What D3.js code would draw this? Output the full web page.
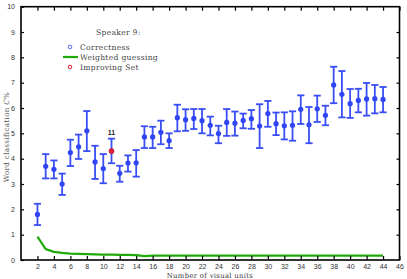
<!DOCTYPE html>
<html>
<head>
<meta charset="utf-8">
<script src="https://cdn.jsdelivr.net/npm/d3@7"></script>
<style>
  body { margin: 0; background: #fff; }
  svg { display: block; }
</style>
</head>
<body>
<svg width="407" height="279"></svg>
<script>
// number of visual units
var units = [2,3,4,5,6,7,8,9,10,11,12,13,14,15,16,17,18,19,20,21,22,23,24,25,26,27,28,29,30,31,32,33,34,35,36,37,38,39,40,41,42,43,44];
// correctness (C%) and its error bar ends
var correct = [1.80,3.70,3.58,3.00,4.24,4.47,5.10,3.87,3.61,4.30,3.42,3.83,3.84,4.86,4.86,5.04,4.71,5.62,5.54,5.59,5.50,5.32,4.99,5.43,5.40,5.51,5.58,5.29,5.78,5.38,5.30,5.32,5.95,5.34,5.97,5.71,6.91,6.54,6.17,6.30,6.36,6.37,6.34];
var upper = [2.22,4.18,3.93,3.41,4.75,4.95,5.88,4.51,4.18,4.79,3.72,4.13,4.34,5.28,5.26,5.50,5.00,6.13,5.95,5.96,5.96,5.66,5.30,5.96,5.86,5.78,5.92,6.15,6.28,5.82,5.83,5.87,6.50,6.04,6.49,6.09,7.63,7.46,6.75,6.76,6.99,6.91,6.83];
var lower = [1.38,3.22,3.22,2.57,3.71,3.99,4.30,3.20,3.03,3.82,3.09,3.49,3.29,4.42,4.42,4.57,4.42,5.08,5.10,5.17,5.00,4.92,4.61,4.90,4.91,5.20,5.18,4.42,5.26,4.93,4.76,4.71,5.37,4.61,5.45,5.32,6.19,5.63,5.61,5.83,5.70,5.79,5.83];
// weighted guessing
var guessing = [0.92,0.43,0.32,0.28,0.25,0.24,0.23,0.22,0.21,0.21,0.20,0.20,0.19,0.15,0.17,0.17,0.17,0.17,0.17,0.17,0.17,0.17,0.17,0.17,0.17,0.17,0.17,0.17,0.17,0.17,0.17,0.17,0.17,0.17,0.17,0.17,0.17,0.17,0.17,0.17,0.17,0.17,0.17];
var improving = 11;
var xTicks = d3.range(0, 47, 2);
var yTicks = d3.range(0, 11, 1);
var legendLabels = ["Correctness", "Weighted guessing", "Improving Set"];

var svg = d3.select("svg");
var x = d3.scaleLinear().domain([0, 46]).range([21, 399.5]);
var y = d3.scaleLinear().domain([0, 10]).range([260, 6.7]);

var blue = "#2f45f5", green = "#1faa0a", red = "#e0203a";
var tickFont = "'Liberation Sans', Arial, sans-serif";
var serif = "'DejaVu Serif', 'Liberation Serif', serif";

// error bars
var bars = svg.append("g");
units.forEach(function(u, i) {
  var cx = x(u);
  var g = bars.append("g").attr("stroke", blue).attr("stroke-width", 1.8).attr("opacity", 0.95);
  g.append("line").attr("x1", cx).attr("x2", cx).attr("y1", y(upper[i])).attr("y2", y(lower[i]));
  g.append("line").attr("x1", cx - 3.6).attr("x2", cx + 3.6).attr("y1", y(upper[i])).attr("y2", y(upper[i]));
  g.append("line").attr("x1", cx - 3.6).attr("x2", cx + 3.6).attr("y1", y(lower[i])).attr("y2", y(lower[i]));
  if (u === improving) {
    bars.append("circle").attr("cx", cx).attr("cy", y(correct[i])).attr("r", 2.5)
      .attr("fill", red).attr("stroke", "#c0102a").attr("stroke-width", 0.8);
    bars.append("text").attr("x", cx).attr("y", y(upper[i]) - 4)
      .attr("text-anchor", "middle").attr("font-family", tickFont).attr("font-size", 7)
      .attr("font-weight", "bold").attr("fill", "#222").text(u);
  } else {
    bars.append("circle").attr("cx", cx).attr("cy", y(correct[i])).attr("r", 2.6).attr("fill", blue);
  }
});

// weighted guessing line
svg.append("path")
  .datum(units.map(function(u, i) { return [u, guessing[i]]; }))
  .attr("fill", "none").attr("stroke", green).attr("stroke-width", 2.2)
  .attr("d", d3.line().x(function(d) { return x(d[0]); }).y(function(d) { return y(d[1]); }));

// axes (ticks inward, all four sides)
var ax = svg.append("g").attr("font-family", tickFont).attr("font-size", 7).attr("fill", "#333");
ax.append("g").attr("transform", "translate(0,260)")
  .call(d3.axisBottom(x).tickValues(xTicks.slice(1)).tickSizeInner(-4).tickSizeOuter(0).tickPadding(4));
ax.append("g").attr("transform", "translate(0,6.7)")
  .call(d3.axisTop(x).tickValues(xTicks.slice(1)).tickSizeInner(-4).tickSizeOuter(0).tickFormat(""));
ax.append("g").attr("transform", "translate(21,0)")
  .call(d3.axisLeft(y).tickValues(yTicks).tickSizeInner(-3).tickSizeOuter(0).tickPadding(6));
ax.append("g").attr("transform", "translate(399.5,0)")
  .call(d3.axisRight(y).tickValues(yTicks.slice(1, 10)).tickSizeInner(-3).tickSizeOuter(0).tickFormat(""));
ax.selectAll(".domain").remove();
ax.selectAll(".tick line").attr("stroke", "#000").attr("stroke-width", 1.2);
ax.selectAll(".tick text").attr("fill", "#333").attr("font-size", 7).attr("font-family", tickFont);

svg.append("rect").attr("x", 21).attr("y", 6.7).attr("width", 378.5).attr("height", 253.3)
  .attr("fill", "none").attr("stroke", "#000").attr("stroke-width", 1.6);

// axis titles
svg.append("text").attr("x", 210).attr("y", 278.3).attr("text-anchor", "middle")
  .attr("font-family", serif).attr("font-size", 6.9).attr("fill", "#333").attr("letter-spacing", 0.3)
  .text("Number of visual units");
var yt = svg.append("text").attr("transform", "translate(9,137) rotate(-90)").attr("text-anchor", "middle")
  .attr("font-family", serif).attr("font-size", 7.2).attr("fill", "#555").attr("letter-spacing", 0.3);
yt.append("tspan").text("Word classification ");
yt.append("tspan").attr("font-style", "italic").text("C");
yt.append("tspan").text("%");

// legend
var lg = svg.append("g").attr("font-family", serif).attr("font-size", 7.6).attr("fill", "#444").attr("letter-spacing", 0.3);
lg.append("text").attr("x", 96).attr("y", 35).text("Speaker 9:");
lg.append("circle").attr("cx", 70).attr("cy", 47).attr("r", 1.8).attr("fill", "none").attr("stroke", blue).attr("stroke-width", 0.8);
lg.append("line").attr("x1", 63).attr("x2", 78).attr("y1", 57).attr("y2", 57).attr("stroke", green).attr("stroke-width", 2.2);
lg.append("circle").attr("cx", 70).attr("cy", 67).attr("r", 1.8).attr("fill", "none").attr("stroke", red).attr("stroke-width", 1);
legendLabels.forEach(function(t, i) {
  lg.append("text").attr("x", 80).attr("y", 49.5 + i * 10).text(t);
});
</script>
</body>
</html>
